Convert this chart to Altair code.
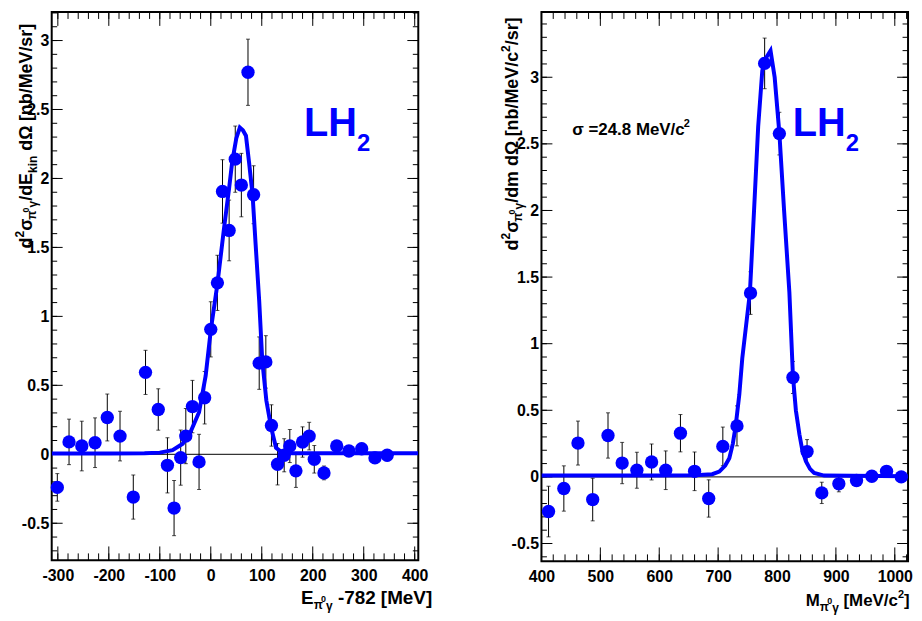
import altair as alt
import numpy as np
import pandas as pd

# ---------------- data ----------------
left_x = [-301, -278, -253, -227, -203, -178, -152, -128, -103, -85,
          -72, -59, -49, -36, -23, -12, 0, 13, 23, 36,
          48, 60, 73, 84, 95, 108, 119, 131, 144, 155,
          167, 180, 193, 203, 222, 247, 271, 296, 322, 346]
left_y = [-0.24, 0.09, 0.06, 0.084, 0.267, 0.132, -0.31, 0.594, 0.325, -0.08,
          -0.39, -0.024, 0.132, 0.346, -0.055, 0.41, 0.906, 1.243, 1.906, 1.623,
          2.14, 1.952, 2.77, 1.882, 0.661, 0.67, 0.209, -0.072, -0.007, 0.06,
          -0.12, 0.089, 0.132, -0.036, -0.135, 0.06, 0.024, 0.04, -0.026, -0.007]
left_err = [0.1, 0.165, 0.18, 0.18, 0.17, 0.18, 0.16, 0.16, 0.15, 0.2,
            0.2, 0.2, 0.2, 0.19, 0.2, 0.19, 0.2, 0.2, 0.23, 0.22,
            0.24, 0.23, 0.24, 0.21, 0.19, 0.19, 0.15, 0.15, 0.12, 0.12,
            0.12, 0.11, 0.1, 0.1, 0.05, 0.04, 0.04, 0.04, 0.04, 0.04]

left_fit_x = [-312, -200, -130, -100, -75, -55, -40, -23, -10, 0, 13, 26, 36, 42, 50,
              57, 63, 69, 75, 82, 88, 95, 101, 109, 118, 128, 140, 160, 407]
left_fit_y = [0.005, 0.005, 0.007, 0.012, 0.03, 0.077, 0.16, 0.305, 0.57, 0.9, 1.235, 1.64,
              1.93, 2.12, 2.29, 2.37, 2.35, 2.31, 2.12, 1.88, 1.52, 1.11, 0.68, 0.39, 0.2,
              0.047, 0.012, 0.008, 0.008]

right_x = [412, 438, 462, 487, 513, 537, 562, 587, 611, 636, 660, 684, 708,
           732, 755, 779, 804, 827, 851, 876, 905, 935, 961, 986, 1011]
right_y = [-0.26, -0.087, 0.254, -0.17, 0.311, 0.104, 0.05, 0.112, 0.05, 0.328, 0.042,
           -0.162, 0.229, 0.383, 1.38, 3.104, 2.577, 0.746, 0.19, -0.12, -0.052,
           -0.027, 0.005, 0.042, 0.0]
right_err = [0.19, 0.17, 0.165, 0.16, 0.17, 0.155, 0.135, 0.135, 0.145, 0.14, 0.145,
             0.14, 0.145, 0.15, 0.16, 0.19, 0.16, 0.12, 0.09, 0.08, 0.06, 0.04, 0.04,
             0.04, 0.04]

right_fit_x = [400, 600, 660, 690, 702, 712, 719, 725, 730, 736, 741, 754, 761, 768,
               775, 782, 789, 796, 804, 812, 821, 827, 832, 838, 843, 849, 856, 863,
               880, 1022]
right_fit_y = [0.01, 0.01, 0.012, 0.02, 0.04, 0.085, 0.14, 0.25, 0.39, 0.62, 0.89, 1.385,
               2.0, 2.63, 3.05, 3.15, 3.2, 3.0, 2.58, 2.0, 1.385, 0.76, 0.5, 0.32, 0.2,
               0.117, 0.06, 0.03, 0.01, 0.005]

# ---------------- styling ----------------
FONT = "Liberation Sans"
BLUE = "#0000ff"
W = 369
HL = 552
HR = 553

CW = {' ': 0.278, '-': 0.333, '/': 0.278, '[': 0.333, ']': 0.333, '.': 0.278, '=': 0.584,
      'E': 0.667, 'M': 0.833, 'V': 0.667, 'L': 0.611, 'H': 0.722,
      'b': 0.611, 'c': 0.556, 'd': 0.611, 'e': 0.556, 'i': 0.278, 'k': 0.556, 'm': 0.889,
      'n': 0.611, 'r': 0.389, 's': 0.556, 'σ': 0.62, 'π': 0.62, 'γ': 0.556, 'Ω': 0.77}
for _d in "0123456789":
    CW[_d] = 0.556

ONE = pd.DataFrame({"a": [0]})


def tw(s, size):
    return sum(CW.get(c, 0.6) for c in s) * size


def rich(pieces, x0, y0, vertical=False, color="black"):
    """Lay out text pieces one after another (SVG trims leading/trailing spaces,
    so spaces are turned into explicit advances)."""
    layers = []
    pos = 0.0
    for t, s, sh in pieces:
        lead = len(t) - len(t.lstrip(" "))
        pos += lead * CW[" "] * s
        core = t.strip(" ")
        if core:
            if vertical:
                x, y, ang = x0 + sh, y0 - pos, 270
            else:
                x, y, ang = x0 + pos, y0 + sh, 0
            layers.append(
                alt.Chart(ONE).mark_text(text=core, fontSize=s, font=FONT, fontWeight="bold",
                                         align="left", baseline="alphabetic", angle=ang,
                                         color=color)
                .encode(x=alt.value(x), y=alt.value(y))
            )
        pos += tw(core, s)
        trail = len(t) - len(t.rstrip(" ")) if core else 0
        pos += trail * CW[" "] * s
    return layers


def in_dom(vals, dom):
    return [round(float(v), 4) for v in vals if dom[0] - 1e-9 <= v <= dom[1] + 1e-9]


def panel(xs, ys, es, fx, fy, xdom, ydom, H, xmaj, xminor, ymaj, yminor, texts):
    xsc = alt.Scale(domain=xdom, nice=False, zero=False)
    ysc = alt.Scale(domain=ydom, nice=False, zero=False)
    df = pd.DataFrame({"x": xs, "y": ys,
                       "lo": [a - b for a, b in zip(ys, es)],
                       "hi": [a + b for a, b in zip(ys, es)]})
    fit = pd.DataFrame({"x": fx, "y": fy})

    lab = dict(labelFont=FONT, labelFontSize=16, labelFontWeight="bold", labelColor="black",
               ticks=False, domain=False, grid=False, title=None, labelFlush=False,
               labelOverlap=False)
    xaxis = alt.Axis(values=xmaj, labelPadding=7,
                     labelExpr="datum.value < 0 ? '-' + format(-datum.value, 'd') : format(datum.value, 'd')",
                     **lab)
    yaxis = alt.Axis(values=ymaj, labelPadding=3,
                     labelExpr="datum.value < 0 ? '-' + format(-datum.value, '.1~f') : format(datum.value, '.1~f')",
                     **lab)

    def X(f):
        return alt.X(f, scale=xsc, axis=xaxis, title=None)

    def Y(f):
        return alt.Y(f, scale=ysc, axis=yaxis, title=None)

    bars = alt.Chart(df).mark_rule(color="black", strokeWidth=1).encode(
        x=X("x:Q"), y=Y("lo:Q"), y2="hi:Q")
    caps_lo = alt.Chart(df).mark_tick(color="black", orient="horizontal", size=4, thickness=1).encode(
        x=X("x:Q"), y=Y("lo:Q"))
    caps_hi = alt.Chart(df).mark_tick(color="black", orient="horizontal", size=4, thickness=1).encode(
        x=X("x:Q"), y=Y("hi:Q"))
    zero = alt.Chart(pd.DataFrame({"z": [0.0]})).mark_rule(color="black", strokeWidth=1).encode(
        y=Y("z:Q"), x=alt.value(0), x2=alt.value(W))
    pts = alt.Chart(df).mark_circle(size=180, color=BLUE, opacity=1).encode(
        x=X("x:Q"), y=Y("y:Q"))
    curve = alt.Chart(fit).mark_line(color=BLUE, strokeWidth=4, clip=True).encode(
        x=X("x:Q"), y=Y("y:Q"))

    # inside ticks (ROOT style)
    def xt(vals, ln):
        d = pd.DataFrame({"v": vals})
        bot = alt.Chart(d).mark_rule(color="black", strokeWidth=1).encode(
            x=X("v:Q"), y=alt.value(H), y2=alt.value(H - ln))
        top = alt.Chart(d).mark_rule(color="black", strokeWidth=1).encode(
            x=X("v:Q"), y=alt.value(0), y2=alt.value(ln))
        return [bot, top]

    def yt(vals, ln):
        d = pd.DataFrame({"v": vals})
        lft = alt.Chart(d).mark_rule(color="black", strokeWidth=1).encode(
            y=Y("v:Q"), x=alt.value(0), x2=alt.value(ln))
        rgt = alt.Chart(d).mark_rule(color="black", strokeWidth=1).encode(
            y=Y("v:Q"), x=alt.value(W - ln), x2=alt.value(W))
        return [lft, rgt]

    ticks = (xt(in_dom(xmaj, xdom), 14) + xt(in_dom(xminor, xdom), 7)
             + yt(in_dom(ymaj, ydom), 11) + yt(in_dom(yminor, ydom), 5.5))

    layers = [bars, zero] + ticks + [caps_lo, caps_hi, pts, curve] + texts
    return alt.layer(*layers).properties(width=W, height=H)


left_texts = (
    rich([("d", 18, 0), ("2", 12, -8), ("σ", 18, 0), ("π", 12, 4), ("0", 9, -3), ("γ", 12, 5),
          ("/dE", 18, 0), ("kin", 12, 5), (" dΩ ", 18, 0), ("[nb/MeV/sr]", 18, 0)],
         -20, 238, vertical=True)
    + rich([("E", 19, 0), ("π", 12, 5), ("0", 9, -2), ("γ", 12, 6), (" -782 [MeV]", 19, 0)],
           251, 596)
    + rich([("LH", 40, 0), ("2", 24, 15)], 254, 125, color=BLUE)
)

right_texts = (
    rich([("d", 18, 0), ("2", 12, -8), ("σ", 18, 0), ("π", 12, 4), ("0", 9, -3), ("γ", 12, 5),
          ("/dm dΩ ", 18, 0), ("[nb/MeV/c", 18, 0), ("2", 12, -8), ("/sr]", 18, 0)],
         -24, 240, vertical=True)
    + rich([("M", 17, 0), ("π", 12, 5), ("0", 9, -2), ("γ", 12, 6), (" [MeV/c", 17, 0),
            ("2", 11, -8), ("]", 17, 0)], 266, 598)
    + rich([("σ =24.8 MeV/c", 17, 0), ("2", 11, -8)], 31, 124)
    + rich([("LH", 40, 0), ("2", 24, 15)], 253, 125, color=BLUE)
)

L_XDOM = [-312, 407]
L_YDOM = [-0.769, 3.207]
R_XDOM = [400, 1022.5]
R_YDOM = [-0.634, 3.49]

left = panel(left_x, left_y, left_err, left_fit_x, left_fit_y, L_XDOM, L_YDOM, HL,
             list(range(-300, 401, 100)), list(np.arange(-320, 420, 20)),
             [-0.5, 0, 0.5, 1, 1.5, 2, 2.5, 3], list(np.arange(-0.8, 3.25, 0.1)),
             left_texts)
right = panel(right_x, right_y, right_err, right_fit_x, right_fit_y, R_XDOM, R_YDOM, HR,
              list(range(400, 1001, 100)), list(np.arange(400, 1030, 20)),
              [-0.5, 0, 0.5, 1, 1.5, 2, 2.5, 3], list(np.arange(-0.6, 3.5, 0.1)),
              right_texts)

chart = (
    alt.hconcat(left, right, spacing=124, bounds="flush")
    .properties(padding={"left": 5, "top": 0, "right": 0, "bottom": 0})
    .configure_view(stroke="black", strokeWidth=2)
)

chart.save("out.html", embed_options={"renderer": "svg", "actions": False})
